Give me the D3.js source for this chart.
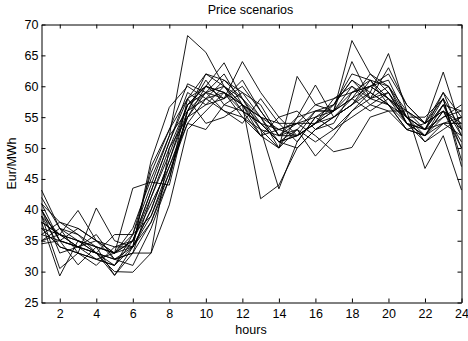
<!DOCTYPE html>
<html>
<head>
<meta charset="utf-8">
<script src="https://cdn.jsdelivr.net/npm/d3@7/dist/d3.min.js"></script>
<style>
  body { margin: 0; background: #fff; }
  svg { display: block; font-family: "Liberation Sans", Arial, sans-serif; }
</style>
</head>
<body>
<svg id="chart" width="468" height="341"></svg>
<script>
const hours = d3.range(1, 25);
const xTicks = [2, 4, 6, 8, 10, 12, 14, 16, 18, 20, 22, 24];
const yTicks = [25, 30, 35, 40, 45, 50, 55, 60, 65, 70];

// price scenarios, Eur/MWh for hours 1..24
const s1  = [40, 35, 34, 33, 32, 34, 40, 48, 56, 59, 60, 57, 53, 52, 54, 55, 56, 59, 60, 58, 55, 53, 57, 52];
const s2  = [38, 29.3, 35, 34, 29.4, 33, 38, 46, 54, 58, 61, 59, 55, 51, 50, 53, 55, 58, 62, 60, 54, 52, 56, 50];
const s3  = [43.2, 37, 33, 32, 33, 36, 44, 52, 68.2, 65.5, 60, 56, 52, 50, 53, 56, 57, 61, 59, 57, 55, 51, 54, 55];
const s4  = [37, 36, 39.9, 35, 33, 35, 42, 50, 57, 60, 63.8, 58, 54, 53, 52, 54, 56, 67.4, 62, 59, 55, 53, 58, 53];
const s5  = [39, 34, 33, 40.3, 35, 34, 39, 47, 55, 57, 58, 64, 59, 55, 52, 54, 56, 60, 58, 60, 56, 54, 56, 51];
const s6  = [41, 38, 36, 33, 30, 29.9, 33, 40.8, 53, 56, 59, 57, 41.8, 44, 50, 53, 55, 57, 60, 62, 57, 54, 59, 55];
const s7  = [36, 35, 31.1, 34, 33, 43.5, 44.5, 44, 56, 58, 56, 55, 53, 43.4, 51, 55, 53, 56, 58, 59, 54, 52, 55, 57];
const s8  = [38, 36, 35, 33, 31, 36, 46, 53, 58, 62, 61, 58, 55, 50, 61.6, 57, 56, 58, 56, 58, 55, 52, 57, 50];
const s9  = [35, 37, 36, 34, 33, 35, 43, 51, 58, 60, 58, 60, 56, 52, 55, 60.2, 55, 57, 59, 65.3, 56, 54, 56, 54];
const s10 = [40, 33, 34, 36, 32, 33, 33, 50, 55, 60, 59, 56, 54, 51, 53, 48.7, 52, 56, 59, 57, 54, 53, 55, 56];
const s11 = [34.5, 35, 34, 32, 31, 34, 38, 45, 58, 54, 55, 57, 55, 53, 54, 52, 49.4, 50.1, 55, 56, 53, 52, 54, 52];
const s12 = [39, 36, 34, 33, 29.4, 34, 48, 56.6, 60, 58, 59, 55, 52, 55, 56, 53, 54, 59, 60, 58, 56, 46.7, 52, 43.2];
const s13 = [37, 34, 33, 31, 34, 35, 41, 47, 54, 53, 57, 56, 54, 51, 52, 54, 57, 62, 61, 57, 53, 54, 62.3, 53];
const s14 = [42, 37, 35, 34, 33, 37, 45, 52, 56, 61, 57, 59, 57, 52, 52, 54, 55, 57, 61, 60, 55, 55, 58, 48];
const s15 = [36, 38, 37, 35, 34, 34, 40, 48, 57, 59, 56, 54, 58, 54, 54, 57, 58, 60, 57, 59, 54, 51, 53, 55];
const s16 = [39, 30.5, 33, 32, 31, 35, 43, 51, 59, 57, 60, 58, 53, 50, 55, 56, 56, 58, 60, 61, 55, 53, 57, 56];
const s17 = [38, 36, 34, 33, 36, 36, 39, 46, 55, 59, 58, 61, 56, 52, 53, 51, 53, 55, 57, 56, 56, 53, 54, 54];
const s18 = [40, 35, 37, 35, 32, 33, 42, 49, 57, 60, 59, 57, 55, 54, 51, 55, 57, 61, 58, 63, 57, 54, 58, 47];
const s19 = [35, 36, 35, 33, 32, 31, 37, 45, 56, 62, 60, 57, 54, 51, 52, 56, 56, 64, 58, 57, 53, 52, 56, 53];
const s20 = [41, 35, 34, 35, 33, 34, 47, 53, 60.4, 59, 62, 57, 52, 53, 54, 54, 58, 59, 61, 58, 54, 53, 59, 52];
const scenarios = [s1, s2, s3, s4, s5, s6, s7, s8, s9, s10, s11, s12, s13, s14, s15, s16, s17, s18, s19, s20];

const svg = d3.select("#chart");
const L = 41.5, R = 461.5, T = 24.5, B = 302.5;
const FS = 12.5;

const x = d3.scaleLinear().domain([1, 24]).range([L, R]);
const y = d3.scaleLinear().domain([25, 70]).range([B, T]);

const plot = svg.append("g");
const line = d3.line().x((d, i) => x(hours[i])).y(d => y(d));

plot.selectAll("path.scen")
  .data(scenarios)
  .enter().append("path")
  .attr("class", "scen")
  .attr("d", line)
  .attr("fill", "none")
  .attr("stroke", "#000")
  .attr("stroke-width", 0.9)
  .attr("stroke-linejoin", "miter");

// box axes, ticks inside
const tickLen = 4;
const axStyle = g => {
  g.select(".domain").attr("stroke", "#000");
  g.selectAll(".tick line").attr("stroke", "#000");
  g.selectAll("text").attr("fill", "#000").attr("font-size", FS);
};

svg.append("g").attr("transform", `translate(0,${B})`)
  .call(d3.axisBottom(x).tickValues(xTicks).tickSizeInner(-tickLen).tickSizeOuter(0).tickPadding(7))
  .call(axStyle);
svg.append("g").attr("transform", `translate(0,${T})`)
  .call(d3.axisTop(x).tickValues(xTicks).tickSizeInner(-tickLen).tickSizeOuter(0).tickFormat(""))
  .call(axStyle);
svg.append("g").attr("transform", `translate(${L},0)`)
  .call(d3.axisLeft(y).tickValues(yTicks).tickSizeInner(-tickLen).tickSizeOuter(0).tickPadding(3))
  .call(axStyle);
svg.append("g").attr("transform", `translate(${R},0)`)
  .call(d3.axisRight(y).tickValues(yTicks).tickSizeInner(-tickLen).tickSizeOuter(0).tickFormat(""))
  .call(axStyle);

svg.append("text")
  .attr("x", 250.5).attr("y", 13.5)
  .attr("text-anchor", "middle").attr("font-size", FS)
  .text("Price scenarios");
svg.append("text")
  .attr("x", 251).attr("y", 334)
  .attr("text-anchor", "middle").attr("font-size", FS)
  .text("hours");
svg.append("text")
  .attr("transform", `translate(15.5,${(T + B) / 2}) rotate(-90)`)
  .attr("text-anchor", "middle").attr("font-size", FS)
  .text("Eur/MWh");
</script>
</body>
</html>
